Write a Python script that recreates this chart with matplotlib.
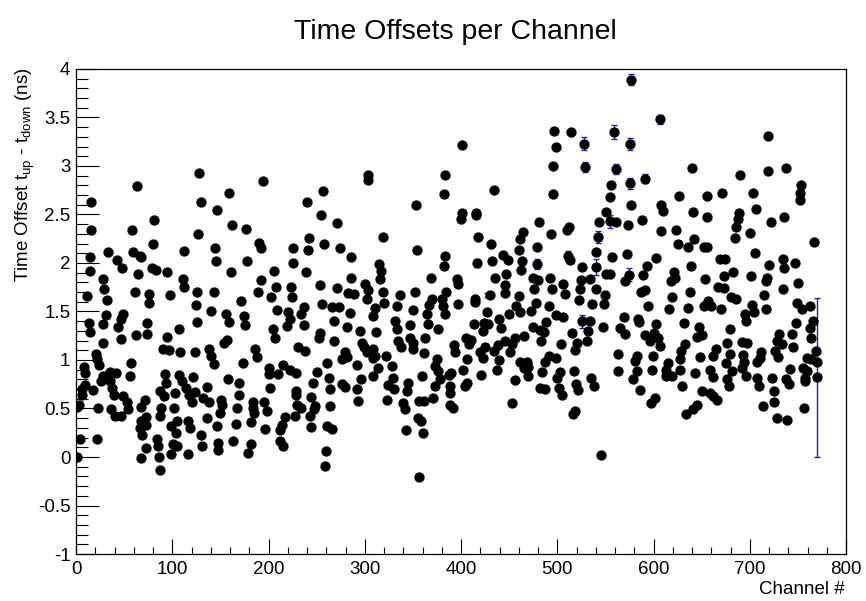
import matplotlib.pyplot as plt
from matplotlib.ticker import MultipleLocator

plt.rcParams['font.family'] = ['Liberation Sans', 'DejaVu Sans']
plt.rcParams['mathtext.fontset'] = 'custom'
plt.rcParams['mathtext.rm'] = 'Liberation Sans'
plt.rcParams['mathtext.it'] = 'Liberation Sans:italic'

channel = [
    63, 16, 16, 58, 33, 15, 59, 66, 43, 67, 48, 15, 64, 28, 29, 61, 11, 32, 76, 76,
    31, 49, 47, 13, 28, 44, 14, 74, 74, 62, 47, 28, 21, 57, 8, 22, 24, 9, 56, 35,
    42, 28, 26, 35, 9, 37, 6, 18, 39, 6, 49, 3, 53, 72, 1, 23, 68, 54, 36, 40,
    47, 73, 68, 66, 69, 4, 22, 1, 68,
    128, 130, 146, 81, 127, 80, 112, 144, 145, 79, 83, 95, 111, 112, 98, 126, 143, 125, 140, 126,
    107, 95, 90, 97, 108, 124, 138, 140, 143, 92, 107, 122, 93, 110, 114, 87, 136, 124, 103, 117,
    91, 132, 120, 138, 151, 88, 102, 150, 87, 136, 105, 116, 99, 118, 146, 73, 104, 130, 84, 101,
    105, 131, 147, 148, 116, 99, 85, 86, 87, 73,
    194, 159, 162, 177, 190, 192, 225, 178, 225, 161, 206, 192, 208, 223, 189, 203, 224, 171, 209, 220,
    156, 175, 159, 222, 176, 219, 205, 207, 157, 154, 231, 186, 188, 173, 215, 200, 222, 229, 200, 210,
    158, 169, 202, 229, 169, 184, 195, 230, 167, 184, 152, 198, 185, 228, 217, 166, 182, 214, 196, 212,
    163, 182, 212, 215, 179,
    303, 303, 257, 240, 254, 271, 242, 258, 274, 241, 286, 239, 286, 253, 271, 300, 283, 289, 303, 302,
    256, 266, 273, 237, 234, 285, 309, 268, 237, 281, 253, 252, 295, 268, 297, 299, 238, 302, 279, 276,
    281, 308, 261, 292, 250, 309, 263, 296, 246, 276, 279, 264, 292, 229, 244, 293, 248, 264, 234, 247,
    243, 244, 261, 266, 260, 259,
    383, 382, 353, 319, 354, 382, 315, 317, 369, 316, 319, 352, 384, 337, 320, 370, 333, 380, 350, 367,
    381, 311, 365, 331, 347, 312, 333, 366, 376, 363, 335, 347, 350, 338, 309, 350, 361, 322, 311, 375,
    328, 373, 314, 376, 359, 329, 378, 387, 345, 324, 373, 330, 344, 371, 323, 340, 356, 361, 342, 355,
    358, 343, 360, 356,
    401, 434, 401, 400, 416, 416, 418, 431, 464, 461, 444, 449, 460, 463, 383, 432, 417, 462, 435, 447,
    396, 397, 446, 430, 446, 460, 414, 415, 397, 457, 427, 450, 461, 383, 413, 424, 428, 439, 441, 423,
    465, 405, 410, 456, 446, 438, 408, 393, 425, 453, 394, 420, 434, 451, 423, 406, 439, 461, 402, 437,
    465, 390, 421, 456, 406, 404, 389, 389, 389, 392, 453,
    497, 514, 499, 528, 496, 529, 495, 481, 493, 510, 512, 543, 542, 479, 511, 513, 540, 540, 526, 479,
    475, 480, 492, 494, 506, 508, 525, 534, 524, 476, 540, 523, 536, 478, 473, 491, 499, 506, 488, 526,
    534, 475, 482, 486, 515, 532, 483, 531, 520, 504, 518, 491, 499, 487, 468, 470, 470, 484, 503, 517,
    500, 535, 482, 487, 502, 519, 521, 538, 505, 518, 516, 545,
    577, 607, 559, 576, 561, 576, 591, 556, 555, 577, 608, 610, 551, 555, 561, 573, 588, 608, 557, 572,
    603, 593, 551, 555, 589, 574, 570, 618, 550, 587, 591, 548, 594, 619, 616, 569, 584, 547, 565, 585,
    603, 570, 591, 600, 605, 596, 607, 563, 583, 599, 581, 615, 563, 583, 598, 613, 613, 619, 579, 586,
    601, 597,
    640, 690, 626, 656, 671, 641, 656, 689, 688, 686, 623, 685, 642, 625, 636, 652, 656, 639, 669, 674,
    621, 622, 673, 683, 653, 667, 673, 638, 680, 686, 657, 636, 652, 660, 670, 695, 696, 632, 647, 645,
    650, 679, 633, 692, 697, 676, 665, 629, 679, 627, 648, 662, 693, 694, 675, 627, 659, 681, 643, 692,
    662, 696, 676, 678, 630, 650, 659, 662, 666, 645, 641, 634,
    719, 719, 738, 753, 752, 752, 703, 706, 722, 736, 700, 767, 705, 720, 734, 736, 747, 701, 718, 717,
    750, 715, 734, 749, 754, 763, 702, 717, 704, 766, 748, 763, 764, 730, 744, 728, 733, 745, 726, 712,
    711, 729, 769, 759, 764, 707, 770, 742, 755, 759, 757, 707, 723, 738, 757, 741, 710, 725, 725, 714,
    756, 728, 739, 770,
]
offset = [
    2.79, 2.63, 2.34, 2.34, 2.11, 2.06, 2.11, 2.07, 2.03, 2.06, 1.95, 1.92, 1.89, 1.83, 1.73, 1.70, 1.66, 1.62, 1.68, 1.59,
    1.46, 1.47, 1.42, 1.38, 1.37, 1.34, 1.29, 1.38, 1.27, 1.26, 1.22, 1.18, 1.06, 0.97, 0.93, 1.01, 0.95, 0.87, 0.83, 0.88,
    0.87, 0.83, 0.78, 0.78, 0.74, 0.71, 0.70, 0.69, 0.64, 0.64, 0.63, 0.54, 0.57, 0.59, 0.52, 0.50, 0.52, 0.49, 0.49, 0.42,
    0.42, 0.41, 0.37, 0.30, 0.23, 0.19, 0.19, 0.00, -0.01,
    2.93, 2.63, 2.55, 2.44, 2.30, 2.20, 2.12, 2.15, 2.02, 1.95, 1.93, 1.91, 1.84, 1.75, 1.67, 1.70, 1.70, 1.57, 1.50, 1.39,
    1.32, 1.24, 1.11, 1.10, 1.08, 1.08, 1.11, 1.04, 0.96, 0.86, 0.85, 0.82, 0.76, 0.78, 0.71, 0.68, 0.72, 0.67, 0.66, 0.64,
    0.63, 0.61, 0.57, 0.57, 0.59, 0.50, 0.51, 0.45, 0.42, 0.40, 0.37, 0.37, 0.32, 0.30, 0.32, 0.33, 0.25, 0.23, 0.19, 0.13,
    0.11, 0.11, 0.14, 0.07, 0.03, 0.03, 0.11, 0.00, -0.13, 0.09,
    2.85, 2.72, 2.39, 2.35, 2.21, 2.15, 2.15, 2.02, 2.00, 1.91, 1.92, 1.82, 1.75, 1.75, 1.70, 1.65, 1.65, 1.61, 1.52, 1.49,
    1.47, 1.45, 1.39, 1.42, 1.36, 1.35, 1.32, 1.23, 1.21, 1.18, 1.13, 1.11, 1.03, 0.97, 0.95, 0.92, 0.90, 0.87, 0.86, 0.86,
    0.80, 0.76, 0.71, 0.68, 0.64, 0.57, 0.57, 0.54, 0.51, 0.50, 0.54, 0.47, 0.45, 0.42, 0.41, 0.34, 0.36, 0.33, 0.29, 0.28,
    0.16, 0.13, 0.16, 0.11, 0.04,
    2.91, 2.86, 2.74, 2.63, 2.49, 2.41, 2.26, 2.20, 2.15, 2.13, 2.06, 1.91, 1.85, 1.77, 1.74, 1.78, 1.69, 1.68, 1.72, 1.63,
    1.58, 1.55, 1.55, 1.55, 1.47, 1.48, 1.45, 1.40, 1.36, 1.34, 1.28, 1.23, 1.30, 1.20, 1.18, 1.13, 1.09, 1.08, 1.08, 1.01,
    1.03, 1.02, 0.97, 0.95, 0.88, 0.83, 0.81, 0.80, 0.76, 0.75, 0.72, 0.70, 0.70, 0.64, 0.62, 0.58, 0.53, 0.53, 0.50, 0.49,
    0.42, 0.31, 0.32, 0.29, 0.06, -0.09,
    2.91, 2.71, 2.60, 2.27, 2.13, 1.97, 1.99, 1.92, 1.85, 1.84, 1.70, 1.70, 1.70, 1.67, 1.59, 1.63, 1.56, 1.63, 1.52, 1.57,
    1.56, 1.54, 1.47, 1.40, 1.36, 1.29, 1.32, 1.37, 1.32, 1.23, 1.20, 1.23, 1.18, 1.13, 1.11, 1.11, 1.07, 1.04, 1.04, 1.01,
    0.94, 0.94, 0.92, 0.89, 0.83, 0.81, 0.80, 0.85, 0.76, 0.74, 0.73, 0.70, 0.68, 0.61, 0.59, 0.56, 0.58, 0.58, 0.49, 0.40,
    0.37, 0.28, 0.25, -0.21,
    3.22, 2.75, 2.52, 2.45, 2.52, 2.49, 2.27, 2.20, 2.32, 2.25, 2.08, 2.03, 2.13, 2.02, 2.07, 2.02, 2.00, 1.93, 1.85, 1.89,
    1.84, 1.78, 1.77, 1.67, 1.69, 1.66, 1.63, 1.60, 1.58, 1.56, 1.49, 1.47, 1.49, 1.47, 1.37, 1.38, 1.37, 1.42, 1.33, 1.30,
    1.25, 1.23, 1.21, 1.23, 1.20, 1.15, 1.16, 1.15, 1.13, 1.16, 1.08, 1.08, 1.09, 1.08, 1.02, 1.01, 1.00, 0.98, 0.90, 0.90,
    0.92, 0.87, 0.85, 0.79, 0.76, 0.73, 0.73, 0.66, 0.54, 0.51, 0.56,
    3.36, 3.35, 3.20, 3.23, 3.00, 2.99, 2.71, 2.42, 2.30, 2.34, 2.37, 2.42, 2.27, 2.17, 2.07, 2.03, 2.11, 1.96, 1.96, 1.99,
    1.85, 1.82, 1.85, 1.73, 1.78, 1.68, 1.82, 1.83, 1.73, 1.73, 1.73, 1.62, 1.58, 1.59, 1.51, 1.56, 1.46, 1.44, 1.39, 1.40,
    1.40, 1.34, 1.31, 1.29, 1.28, 1.30, 1.20, 1.20, 1.18, 1.16, 1.10, 1.04, 1.02, 0.98, 0.98, 0.93, 0.83, 0.88, 0.88, 0.89,
    0.81, 0.81, 0.71, 0.70, 0.71, 0.75, 0.69, 0.73, 0.64, 0.47, 0.44, 0.02,
    3.89, 3.48, 3.35, 3.23, 2.97, 2.82, 2.87, 2.80, 2.68, 2.60, 2.60, 2.54, 2.53, 2.43, 2.42, 2.39, 2.44, 2.33, 2.06, 2.09,
    2.05, 1.97, 1.89, 1.89, 1.88, 1.88, 1.81, 1.81, 1.67, 1.70, 1.72, 1.58, 1.56, 1.65, 1.53, 1.44, 1.42, 1.34, 1.33, 1.39,
    1.37, 1.27, 1.26, 1.28, 1.23, 1.20, 1.14, 1.06, 1.04, 1.04, 0.99, 0.97, 0.89, 0.89, 0.90, 0.90, 0.83, 0.83, 0.80, 0.69,
    0.61, 0.56,
    2.98, 2.91, 2.69, 2.69, 2.72, 2.53, 2.47, 2.52, 2.45, 2.37, 2.34, 2.26, 2.25, 2.20, 2.16, 2.17, 2.17, 1.97, 2.04, 2.04,
    1.91, 1.85, 1.87, 1.91, 1.84, 1.75, 1.74, 1.70, 1.65, 1.63, 1.61, 1.54, 1.56, 1.56, 1.53, 1.47, 1.40, 1.38, 1.34, 1.24,
    1.26, 1.32, 1.16, 1.19, 1.18, 1.18, 1.11, 1.09, 1.06, 1.01, 1.03, 1.04, 1.05, 0.98, 0.97, 0.90, 0.90, 0.89, 0.87, 0.92,
    0.82, 0.83, 0.80, 0.73, 0.73, 0.68, 0.66, 0.63, 0.59, 0.54, 0.49, 0.44,
    3.31, 2.95, 2.98, 2.80, 2.72, 2.65, 2.72, 2.56, 2.42, 2.47, 2.31, 2.22, 2.10, 1.98, 2.04, 1.95, 2.00, 1.87, 1.85, 1.81,
    1.79, 1.67, 1.73, 1.59, 1.53, 1.56, 1.57, 1.53, 1.49, 1.40, 1.38, 1.33, 1.23, 1.27, 1.27, 1.20, 1.16, 1.13, 1.09, 1.08,
    1.02, 1.03, 1.09, 1.02, 1.01, 0.98, 0.98, 0.91, 0.92, 0.89, 0.81, 0.81, 0.81, 0.80, 0.78, 0.75, 0.73, 0.68, 0.57, 0.53,
    0.51, 0.40, 0.38, 0.82,
]

# points whose error bars stick out of the marker
err_channel = [528, 529, 495, 512, 511, 542, 540, 526, 479, 559, 577, 576, 561,
               576, 591, 607, 555, 574, 593, 591, 416, 400, 417, 427, 752, 770]
err_offset = [3.23, 2.99, 2.71, 2.37, 2.07, 2.27, 1.96, 1.40, 1.99, 3.35, 3.89, 3.23, 2.97,
              2.82, 2.87, 3.48, 2.43, 1.88, 1.97, 1.72, 2.52, 2.45, 2.00, 1.67, 2.72, 0.82]
err_size = [0.065, 0.05, 0.03, 0.03, 0.05, 0.065, 0.08, 0.065, 0.05, 0.075, 0.055, 0.06, 0.05,
            0.06, 0.05, 0.05, 0.065, 0.07, 0.03, 0.03, 0.03, 0.03, 0.04, 0.02, 0.03, 0.82]

fig = plt.figure(figsize=(8.66, 6.01), dpi=100)
ax = fig.add_axes([0.0878, 0.0782, 0.8892, 0.8070])

ax.errorbar(err_channel, err_offset, yerr=err_size, fmt='none', ecolor='#2222aa',
            elinewidth=1, capsize=2.5, capthick=1, zorder=2)
ax.plot(channel, offset, 'o', color='black', ms=6.4, linestyle='none', zorder=3)

ax.set_xlim(0, 800)
ax.set_ylim(-1, 4)
ax.xaxis.set_major_locator(MultipleLocator(100))
ax.xaxis.set_minor_locator(MultipleLocator(20))
ax.yaxis.set_major_locator(MultipleLocator(0.5))
ax.yaxis.set_minor_locator(MultipleLocator(0.1))
ax.yaxis.set_major_formatter(plt.FuncFormatter(lambda v, p: f'{v:g}'))

ax.tick_params(axis='both', which='both', direction='in', top=False, right=False,
               labelsize=13.5, width=0.8)
ax.tick_params(axis='y', which='major', length=16.5, pad=4)
ax.tick_params(axis='y', which='minor', length=8.3)
ax.tick_params(axis='x', which='major', length=10.5, pad=5)
ax.tick_params(axis='x', which='minor', length=5.3)
for s in ax.spines.values():
    s.set_linewidth(0.9)

fig.text(455 / 866, 1 - 32 / 601, 'Time Offsets per Channel', ha='center', va='center', fontsize=20.5)
fig.text(25 / 866, 1 - 67 / 601, r'Time Offset t$_{\rm up}$ - t$_{\rm down}$ (ns)',
         rotation=90, ha='center', va='top', fontsize=13.5)
fig.text(845 / 866, 1 - 590 / 601, 'Channel #', ha='right', va='center', fontsize=13.5)

plt.savefig('out.png', dpi=100)
